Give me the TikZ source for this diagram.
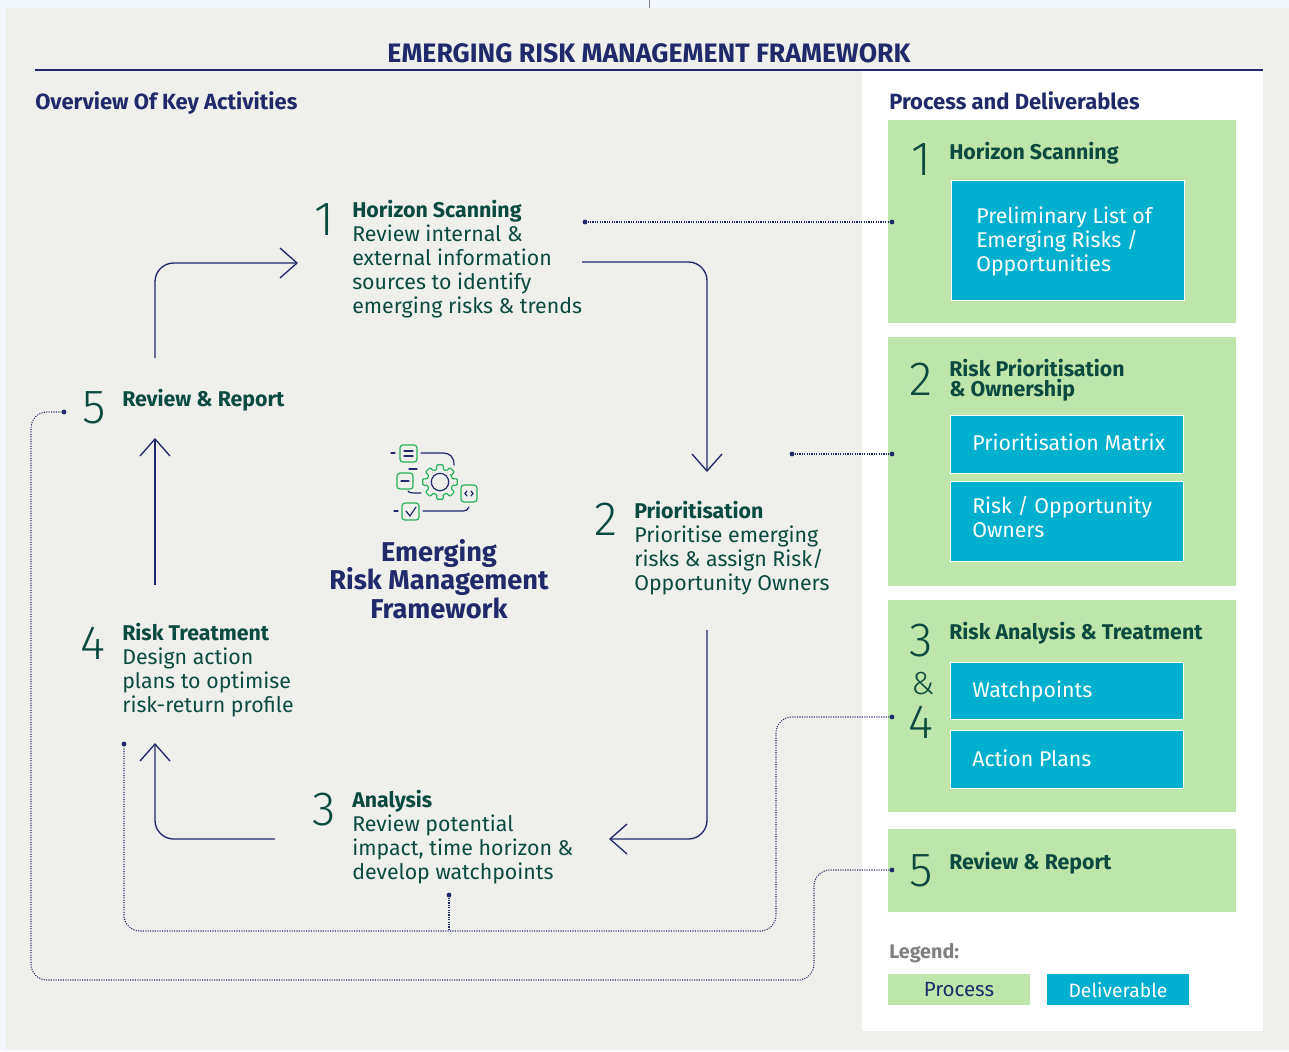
\documentclass[tikz,border=0pt]{standalone}
\usepackage{fontspec}
\setmainfont{Fira Sans}
\newfontfamily\numfont{Fira Sans Light}
\usetikzlibrary{arrows.meta}
\definecolor{pageblue}{RGB}{243,247,255}
\definecolor{panelgrey}{RGB}{239,239,235}
\definecolor{navy}{RGB}{32,42,106}
\definecolor{deepgreen}{RGB}{11,74,65}
\definecolor{procgreen}{RGB}{190,230,170}
\definecolor{delivblue}{RGB}{0,176,206}
\definecolor{iconboxgreen}{RGB}{40,175,90}
\tikzset{
  bodytext/.style={anchor=north west,inner sep=0.75pt,align=left,text=deepgreen,font=\fontsize{16}{18}\selectfont},
  headtext/.style={bodytext,font=\fontsize{16}{15}\selectfont\bfseries},
  numtext/.style={anchor=center,inner sep=0pt,text=deepgreen,font=\fontsize{36}{36}\selectfont\numfont},
  navyhead/.style={anchor=north west,inner sep=0.75pt,text=navy,font=\fontsize{16.5}{18}\selectfont\bfseries},
  delivtext/.style={anchor=west,inner sep=0.75pt,align=left,text=white,font=\fontsize{16}{18}\selectfont},
  procbox/.style={fill=procgreen,draw=none},
  delivbox/.style={fill=delivblue,draw=white,line width=0.75pt},
  flowline/.style={draw=navy,line width=1pt,rounded corners=14pt,-{Straight Barb[length=12.75pt,width=22.5pt,line width=1pt]}},
  dotline/.style={draw=navy,line width=0.8pt,dash pattern=on 0.8pt off 1pt,rounded corners=12pt},
  dotend/.style={circle,fill=navy,inner sep=0pt,minimum size=3.6pt},
  iconline/.style={draw=navy,line width=0.9pt,line cap=round},
  iconbox/.style={draw=iconboxgreen,line width=0.9pt,rounded corners=2.2pt}
}
\begin{document}
\begin{tikzpicture}[x=0.75pt,y=0.75pt,yscale=-1,xscale=1]
	\useasboundingbox (0,0) rectangle (1289,1051);
	%Shape: Backgrounds
	\fill[pageblue] (0,0) rectangle (1289,1051);
	\fill[panelgrey] (6,8) rectangle (1289,1050);
	\fill[white] (862,70) rectangle (1263,1031);
	\draw[gray,line width=0.5pt] (649,0) -- (649,8);
	%Straight Lines: title rule
	\draw[navy,line width=1pt] (35,70) -- (1263,70);

	%Shape: Process boxes
	\fill[procbox] (888,120) rectangle (1236,323);
	\fill[procbox] (888,337) rectangle (1236,586);
	\fill[procbox] (888,600) rectangle (1236,812);
	\fill[procbox] (888,829) rectangle (1236,912);
	\fill[procbox] (888,974) rectangle (1030,1005);
	\fill[delivblue] (1047,974) rectangle (1189,1005);

	%Shape: Deliverable boxes
	\draw[delivbox] (951,180) rectangle (1184,300);
	\draw[delivbox] (950,415) rectangle (1183,473);
	\draw[delivbox] (950,481) rectangle (1183,561);
	\draw[delivbox] (950,662) rectangle (1183,719);
	\draw[delivbox] (950,730) rectangle (1183,788);

	% Text Node
	\node[anchor=center,inner sep=0.75pt,text=navy,font=\fontsize{20}{22}\selectfont\bfseries] (title) at (649,53) {EMERGING RISK MANAGEMENT FRAMEWORK};
	\node[navyhead] (overview) at (34,90) {Overview Of Key Activities};
	\node[navyhead] (process) at (888,90) {Process and Deliverables};

	% Text Node: activities
	\node[numtext] (num1) at (324,220) {1};
	\node[bodytext] (activity1) at (351,199) {\textbf{Horizon Scanning}\\Review internal \&\\external information\\sources to identify\\emerging risks \& trends};
	\node[numtext] (num2) at (606,519) {2};
	\node[bodytext] (activity2) at (633,500) {\textbf{Prioritisation}\\Prioritise emerging\\risks \& assign Risk/\\Opportunity Owners};
	\node[numtext] (num3) at (324,810) {3};
	\node[bodytext] (activity3) at (351,789) {\textbf{Analysis}\\Review potential\\impact, time horizon \&\\develop watchpoints};
	\node[numtext] (num4) at (93,643) {4};
	\node[bodytext] (activity4) at (121,622) {\textbf{Risk Treatment}\\Design action\\plans to optimise\\risk-return profile};
	\node[numtext] (num5) at (94,408) {5};
	\node[headtext] (activity5) at (121,388) {Review \& Report};

	% Text Node: centre
	\node[anchor=center,align=center,inner sep=0.75pt,text=navy,font=\fontsize{20.4}{21.6}\selectfont\bfseries] (centre) at (439,579) {Emerging\\Risk Management\\Framework};

	% Text Node: process boxes
	\node[numtext] (pnum1) at (921,160) {1};
	\node[headtext] (phead1) at (948,141) {Horizon Scanning};
	\node[delivtext] (deliv1) at (975,241) {Preliminary List of\\Emerging Risks /\\Opportunities};
	\node[numtext] (pnum2) at (921,379) {2};
	\node[headtext] (phead2) at (948,358) {Risk Prioritisation\\\& Ownership};
	\node[delivtext] (deliv2) at (971,442) {Prioritisation Matrix};
	\node[delivtext] (deliv3) at (971,517) {Risk / Opportunity\\Owners};
	\node[numtext] (pnum3) at (921,641) {3};
	\node[numtext,font=\fontsize{24}{24}\selectfont\numfont] (pamp) at (923,684) {\&};
	\node[numtext] (pnum4) at (921,722) {4};
	\node[headtext] (phead3) at (948,621) {Risk Analysis \& Treatment};
	\node[delivtext] (deliv4) at (971,691) {Watchpoints};
	\node[delivtext] (deliv5) at (971,758) {Action Plans};
	\node[numtext] (pnum5) at (921,871) {5};
	\node[headtext] (phead5) at (948,851) {Review \& Report};

	% Text Node: legend
	\node[anchor=north west,inner sep=0.75pt,text=gray,font=\fontsize{14.8}{16}\selectfont\bfseries] (legend) at (888,942) {Legend:};
	\node[inner sep=0.75pt,text=navy,font=\fontsize{15.4}{16}\selectfont] (legproc) at (959,990) {Process};
	\node[inner sep=0.75pt,text=white,font=\fontsize{14.5}{16}\selectfont] (legdeliv) at (1118,990) {Deliverable};

	%Straight Lines: flow arrows
	\coordinate (flow1a) at (155,358);
	\coordinate (flow1b) at (298,263);
	\coordinate (flow2a) at (582,262);
	\coordinate (flow2b) at (707,472);
	\coordinate (flow3a) at (707,630);
	\coordinate (flow3b) at (609,839);
	\coordinate (flow4a) at (275,839);
	\coordinate (flow4b) at (155,743);
	\coordinate (flow5a) at (155,585);
	\coordinate (flow5b) at (155,438);
	\draw[flowline] (flow1a) |- (flow1b);
	\draw[flowline] (flow2a) -| (flow2b);
	\draw[flowline] (flow3a) |- (flow3b);
	\draw[flowline] (flow4a) -| (flow4b);
	\draw[flowline] (flow5a) -- (flow5b);

	%Straight Lines: dotted links
	\node[dotend] (dot1a) at (585,222) {};
	\node[dotend] (dot1b) at (892,222) {};
	\node[dotend] (dot2a) at (792,454) {};
	\node[dotend] (dot2b) at (892,454) {};
	\node[dotend] (dot3a) at (892,717) {};
	\node[dotend] (dot3b) at (124,744) {};
	\node[dotend] (dot3c) at (449,895) {};
	\node[dotend] (dot4a) at (892,870) {};
	\node[dotend] (dot4b) at (64,412) {};
	\coordinate (join3c) at (449,931);
	\draw[dotline] (dot1a) -- (dot1b);
	\draw[dotline] (dot2a) -- (dot2b);
	\draw[dotline] (dot3a) -- (776,717) -- (776,931) -- (124,931) -- (dot3b);
	\draw[dotline] (dot3c) -- (join3c);
	\draw[dotline] (dot4a) -- (814,870) -- (814,980) -- (31,980) -- (31,412) -- (dot4b);

	%Shape: Icon
	\draw[iconbox] (400,445) rectangle (417,462);
	\draw[iconbox] (397,473) rectangle (413,489);
	\draw[iconbox] (461,485) rectangle (477,502);
	\draw[iconbox] (402,503) rectangle (419,520);
	\draw[iconline] (391,453) -- (395,453);
	\draw[iconline] (404,451) -- (413,451) (404,456) -- (413,456);
	\draw[iconline] (401,481) -- (409,481);
	\draw[iconline] (467,491) -- (465,493.5) -- (467,496) (471,491) -- (473,493.5) -- (471,496);
	\draw[iconline] (406,511) -- (410,516) -- (416,507);
	\draw[iconline] (421,453) -- (443,453) .. controls (450,453) and (454,457) .. (454,465);
	\draw[iconline] (409,469) -- (417,469);
	\draw[iconline] (408,491) .. controls (409,493) and (411,493) .. (421,493);
	\draw[iconline] (394,511) -- (398,511);
	\draw[iconline] (423,511) -- (463,511) .. controls (466,511) and (468,510) .. (469,507);
	\draw[iconbox,rounded corners=0.6pt] ([shift={(440,482)}]-36:13) \foreach \a in {0,45,...,315} {
		-- ([shift={(440,482)}]\a-15:13) -- ([shift={(440,482)}]\a-10:17.5) -- ([shift={(440,482)}]\a+10:17.5) -- ([shift={(440,482)}]\a+15:13)
	} -- cycle;
	\draw[iconline] (440,482) circle (8.7);

\end{tikzpicture}
\end{document}
